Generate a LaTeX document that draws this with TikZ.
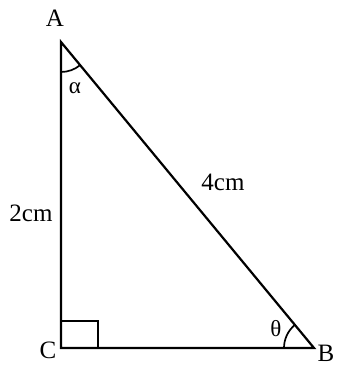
\documentclass[tikz,border=0pt]{standalone}
\usepackage{fontspec}
\setmainfont{Liberation Serif}
\begin{document}
\begin{tikzpicture}[x=1pt,y=-1pt,
  edge/.style={line width=2.2pt,line join=miter},
  thin/.style={line width=1.7pt},
  lbl/.style={font=\fontsize{25}{25}\selectfont,inner sep=0pt},
  glbl/.style={font=\fontsize{23}{23}\selectfont,inner sep=0pt}]
\useasboundingbox (0,0) rectangle (337,365);
\coordinate (A) at (61,42);
\coordinate (C) at (61,348);
\coordinate (B) at (314,348);
\coordinate (a0) at (61,72);
\coordinate (b0) at (284,348);
\draw[edge] (A) -- (C) -- (B) -- cycle;
\draw[thin] (61,321) -- (98,321) -- (98,348);
\draw[thin] (a0) arc[start angle=-90,end angle=-50.4,radius=30pt];
\draw[thin] (b0) arc[start angle=180,end angle=129.6,radius=30pt];
\node[lbl] (la) at (55,18) {A};
\node[lbl] (lc) at (48,350) {C};
\node[lbl] (lb) at (326,353) {B};
\node[lbl] (l4) at (223,182) {4cm};
\node[lbl] (l2) at (31,213) {2cm};
\node[glbl] (lal) at (75,88) {α};
\node[glbl] (lth) at (276,329) {θ};
\end{tikzpicture}
\end{document}
